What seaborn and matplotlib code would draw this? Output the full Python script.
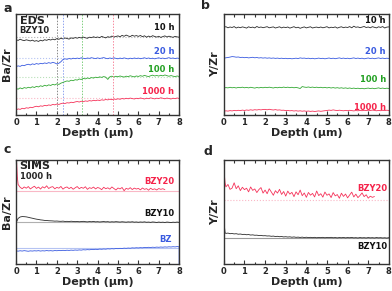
import numpy as np
import matplotlib.pyplot as plt
import seaborn as sns

# depth grid (um) used by the EDS/SIMS scans
depth = np.round(np.arange(0, 8.01, 0.1), 2)

# ---- (a) EDS Ba/Zr, BZY10 ----
eds_ba_10h = [0.745, 0.738, 0.750, 0.741, 0.736, 0.744, 0.739, 0.733, 0.741, 0.730,
              0.736, 0.728, 0.740, 0.733, 0.745, 0.739, 0.748, 0.742, 0.751, 0.744,
              0.756, 0.749, 0.760, 0.753, 0.762, 0.757, 0.751, 0.763, 0.758, 0.766,
              0.760, 0.768, 0.762, 0.771, 0.764, 0.759, 0.770, 0.765, 0.774, 0.767,
              0.772, 0.765, 0.778, 0.770, 0.763, 0.775, 0.769, 0.781, 0.772, 0.777,
              0.783, 0.774, 0.788, 0.779, 0.791, 0.782, 0.776, 0.789, 0.780, 0.786,
              0.778, 0.787, 0.775, 0.784, 0.770, 0.781, 0.773, 0.785, 0.777, 0.771,
              0.779, 0.768, 0.776, 0.783, 0.772, 0.780, 0.774, 0.769, 0.778, 0.773, 0.770]
eds_ba_20h = [0.478, 0.486, 0.481, 0.492, 0.488, 0.497, 0.502, 0.495, 0.506, 0.500,
              0.509, 0.503, 0.511, 0.507, 0.515, 0.510, 0.518, 0.512, 0.521, 0.515,
              0.505, 0.512, 0.527, 0.549, 0.556, 0.551, 0.559, 0.554, 0.562, 0.557,
              0.563, 0.558, 0.566, 0.561, 0.557, 0.564, 0.560, 0.567, 0.562, 0.558,
              0.565, 0.559, 0.563, 0.568, 0.561, 0.557, 0.564, 0.559, 0.566, 0.560,
              0.556, 0.563, 0.558, 0.565, 0.560, 0.555, 0.562, 0.557, 0.564, 0.559,
              0.563, 0.557, 0.561, 0.566, 0.559, 0.564, 0.558, 0.562, 0.556, 0.561,
              0.566, 0.559, 0.563, 0.557, 0.562, 0.567, 0.560, 0.564, 0.558, 0.563, 0.560]
eds_ba_100h = [0.262, 0.255, 0.268, 0.259, 0.271, 0.265, 0.274, 0.268, 0.279, 0.272,
               0.283, 0.277, 0.289, 0.282, 0.294, 0.287, 0.298, 0.292, 0.303, 0.297,
               0.308, 0.302, 0.315, 0.322, 0.330, 0.337, 0.333, 0.344, 0.339, 0.349,
               0.345, 0.356, 0.351, 0.362, 0.357, 0.366, 0.361, 0.370, 0.365, 0.374,
               0.369, 0.377, 0.372, 0.380, 0.374, 0.352, 0.378, 0.384, 0.376, 0.383,
               0.378, 0.386, 0.380, 0.375, 0.384, 0.379, 0.388, 0.382, 0.377, 0.386,
               0.381, 0.389, 0.383, 0.392, 0.385, 0.380, 0.388, 0.394, 0.386, 0.391,
               0.385, 0.393, 0.387, 0.396, 0.389, 0.383, 0.390, 0.384, 0.379, 0.386, 0.381]
eds_ba_1000h = [0.048, 0.060, 0.055, 0.066, 0.061, 0.071, 0.067, 0.076, 0.072, 0.081,
                0.086, 0.081, 0.090, 0.086, 0.095, 0.091, 0.099, 0.095, 0.104, 0.100,
                0.108, 0.104, 0.112, 0.117, 0.113, 0.121, 0.118, 0.126, 0.122, 0.129,
                0.133, 0.128, 0.136, 0.131, 0.139, 0.135, 0.142, 0.138, 0.145, 0.141,
                0.147, 0.143, 0.150, 0.146, 0.153, 0.149, 0.156, 0.151, 0.158, 0.154,
                0.160, 0.155, 0.163, 0.158, 0.165, 0.160, 0.167, 0.162, 0.158, 0.165,
                0.161, 0.168, 0.163, 0.158, 0.166, 0.161, 0.169, 0.164, 0.159, 0.166,
                0.162, 0.170, 0.165, 0.160, 0.167, 0.163, 0.158, 0.166, 0.161, 0.168, 0.163]
eds_ba_ref = [0.77, 0.56, 0.38, 0.165]
interface_depth = [2.0, 2.32, 3.22, 4.74]

# ---- (b) EDS Y/Zr ----
eds_y_10h = [0.868, 0.874, 0.863, 0.871, 0.866, 0.875, 0.861, 0.870, 0.864, 0.872,
             0.867, 0.860, 0.873, 0.865, 0.870, 0.862, 0.876, 0.866, 0.871, 0.864,
             0.869, 0.874, 0.863, 0.868, 0.872, 0.861, 0.867, 0.873, 0.862, 0.870,
             0.865, 0.871, 0.860, 0.867, 0.874, 0.863, 0.869, 0.858, 0.866, 0.872,
             0.862, 0.868, 0.873, 0.861, 0.867, 0.870, 0.864, 0.871, 0.863, 0.868,
             0.874, 0.862, 0.869, 0.865, 0.872, 0.860, 0.868, 0.873, 0.864, 0.870,
             0.866, 0.875, 0.863, 0.879, 0.868, 0.872, 0.864, 0.870, 0.876, 0.866,
             0.871, 0.863, 0.874, 0.868, 0.862, 0.873, 0.867, 0.875, 0.861, 0.870, 0.872]
eds_y_20h = [0.562, 0.566, 0.569, 0.573, 0.578, 0.576, 0.572, 0.574, 0.569, 0.571,
             0.567, 0.570, 0.565, 0.568, 0.571, 0.566, 0.569, 0.564, 0.567, 0.563,
             0.566, 0.562, 0.565, 0.561, 0.564, 0.560, 0.563, 0.559, 0.562, 0.558,
             0.561, 0.557, 0.560, 0.556, 0.559, 0.562, 0.558, 0.565, 0.561, 0.563,
             0.559, 0.562, 0.557, 0.561, 0.556, 0.559, 0.563, 0.558, 0.561, 0.556,
             0.560, 0.564, 0.558, 0.562, 0.557, 0.561, 0.565, 0.559, 0.563, 0.558,
             0.562, 0.557, 0.561, 0.565, 0.559, 0.563, 0.558, 0.562, 0.556, 0.560,
             0.564, 0.558, 0.562, 0.557, 0.561, 0.565, 0.559, 0.563, 0.558, 0.562, 0.559]
eds_y_100h = [0.266, 0.271, 0.268, 0.274, 0.269, 0.272, 0.267, 0.273, 0.270, 0.275,
              0.269, 0.273, 0.268, 0.274, 0.270, 0.266, 0.272, 0.268, 0.273, 0.269,
              0.274, 0.270, 0.275, 0.271, 0.267, 0.273, 0.269, 0.274, 0.270, 0.276,
              0.271, 0.275, 0.270, 0.274, 0.269, 0.273, 0.268, 0.262, 0.281, 0.276,
              0.273, 0.277, 0.272, 0.276, 0.271, 0.275, 0.270, 0.274, 0.269, 0.273,
              0.268, 0.272, 0.267, 0.271, 0.266, 0.270, 0.265, 0.269, 0.264, 0.268,
              0.263, 0.267, 0.262, 0.266, 0.261, 0.265, 0.260, 0.264, 0.259, 0.263,
              0.266, 0.261, 0.265, 0.260, 0.264, 0.268, 0.262, 0.266, 0.261, 0.265, 0.262]
eds_y_1000h = [0.036, 0.041, 0.038, 0.043, 0.040, 0.045, 0.042, 0.046, 0.043, 0.048,
               0.044, 0.049, 0.046, 0.051, 0.047, 0.052, 0.049, 0.053, 0.050, 0.054,
               0.055, 0.051, 0.056, 0.052, 0.049, 0.053, 0.048, 0.050, 0.046, 0.047,
               0.043, 0.045, 0.041, 0.043, 0.039, 0.042, 0.038, 0.041, 0.037, 0.040,
               0.036, 0.039, 0.035, 0.038, 0.034, 0.037, 0.040, 0.036, 0.039, 0.042,
               0.044, 0.048, 0.045, 0.050, 0.046, 0.043, 0.047, 0.044, 0.041, 0.045,
               0.042, 0.046, 0.043, 0.040, 0.044, 0.041, 0.045, 0.042, 0.046, 0.043,
               0.047, 0.044, 0.048, 0.045, 0.041, 0.045, 0.042, 0.046, 0.043, 0.047, 0.044]

# ---- (c) SIMS Ba/Zr, 1000 h ----
sims_head_depth = [0.0, 0.03, 0.06]
sims_short_depth = np.round(np.arange(0.1, 7.31, 0.1), 2)
sims_ba_bzy20 = [1.0, 0.97, 0.84,
                 0.765, 0.738, 0.724, 0.741, 0.729, 0.745, 0.722, 0.736, 0.748, 0.727,
                 0.740, 0.721, 0.743, 0.731, 0.752, 0.726, 0.739, 0.744, 0.723, 0.737,
                 0.729, 0.746, 0.720, 0.735, 0.741, 0.725, 0.738, 0.719, 0.733, 0.745,
                 0.724, 0.737, 0.728, 0.743, 0.718, 0.734, 0.727, 0.740, 0.722, 0.736,
                 0.729, 0.715, 0.738, 0.724, 0.733, 0.720, 0.741, 0.726, 0.712, 0.731,
                 0.722, 0.736, 0.705, 0.728, 0.719, 0.734, 0.716, 0.730, 0.721, 0.727,
                 0.713, 0.731, 0.718, 0.725, 0.710, 0.729, 0.716, 0.723, 0.712, 0.726,
                 0.718, 0.724, 0.715]
sims_ba_bzy10 = [0.395, 0.438, 0.452, 0.456, 0.455, 0.453, 0.449, 0.444, 0.440, 0.435,
                 0.431, 0.428, 0.424, 0.422, 0.419, 0.418, 0.416, 0.415, 0.414, 0.412,
                 0.413, 0.411, 0.410, 0.412, 0.409, 0.410, 0.408, 0.411, 0.409, 0.407,
                 0.409, 0.406, 0.408, 0.410, 0.407, 0.405, 0.408, 0.406, 0.409, 0.405,
                 0.407, 0.404, 0.406, 0.408, 0.405, 0.407, 0.403, 0.406, 0.404, 0.407,
                 0.405, 0.403, 0.406, 0.404, 0.402, 0.405, 0.403, 0.406, 0.402, 0.404,
                 0.401, 0.404, 0.402, 0.405, 0.401, 0.403, 0.400, 0.404, 0.402, 0.399,
                 0.403, 0.400, 0.402, 0.399, 0.403, 0.401, 0.398, 0.402, 0.400, 0.403, 0.400]
sims_ba_bz = [0.126, 0.123, 0.127, 0.124, 0.128, 0.125, 0.122, 0.126, 0.124, 0.127,
              0.125, 0.128, 0.124, 0.127, 0.125, 0.129, 0.126, 0.128, 0.125, 0.129,
              0.127, 0.130, 0.128, 0.131, 0.129, 0.132, 0.130, 0.133, 0.131, 0.134,
              0.132, 0.135, 0.133, 0.137, 0.135, 0.138, 0.136, 0.140, 0.138, 0.141,
              0.139, 0.143, 0.141, 0.144, 0.142, 0.146, 0.144, 0.147, 0.145, 0.149,
              0.147, 0.150, 0.148, 0.152, 0.150, 0.153, 0.151, 0.155, 0.153, 0.156,
              0.154, 0.157, 0.155, 0.159, 0.157, 0.160, 0.158, 0.161, 0.159, 0.162,
              0.160, 0.163, 0.161, 0.164, 0.162, 0.165, 0.163, 0.166, 0.164, 0.167, 0.165,
              0.0]
sims_ba_ref = [0.70, 0.40, 0.15]

# ---- (d) SIMS Y/Zr ----
sims_y_bzy20 = [1.0, 0.85, 0.78,
                0.742, 0.765, 0.718, 0.730, 0.781, 0.724, 0.752, 0.706, 0.738, 0.715,
                0.729, 0.694, 0.741, 0.708, 0.722, 0.687, 0.716, 0.735, 0.682, 0.711,
                0.676, 0.724, 0.693, 0.661, 0.705, 0.682, 0.718, 0.669, 0.697, 0.653,
                0.701, 0.672, 0.689, 0.648, 0.694, 0.666, 0.711, 0.657, 0.683, 0.641,
                0.688, 0.662, 0.679, 0.645, 0.702, 0.658, 0.676, 0.643, 0.692, 0.661,
                0.674, 0.639, 0.687, 0.655, 0.668, 0.632, 0.681, 0.650, 0.673, 0.636,
                0.664, 0.691, 0.645, 0.672, 0.638, 0.659, 0.684, 0.648, 0.666, 0.633,
                0.652, 0.641, 0.649]
sims_y_bzy10 = [0.45, 0.36, 0.30,
                0.294, 0.297, 0.291, 0.293, 0.289, 0.291, 0.286, 0.288, 0.284, 0.285,
                0.281, 0.283, 0.278, 0.280, 0.276, 0.277, 0.273, 0.275, 0.271, 0.272,
                0.269, 0.270, 0.266, 0.268, 0.264, 0.266, 0.262, 0.264, 0.260, 0.262,
                0.259, 0.261, 0.257, 0.260, 0.256, 0.258, 0.255, 0.258, 0.254, 0.257,
                0.254, 0.256, 0.253, 0.256, 0.252, 0.255, 0.253, 0.256, 0.252, 0.255,
                0.253, 0.256, 0.252, 0.254, 0.251, 0.254, 0.252, 0.255, 0.251, 0.254,
                0.252, 0.255, 0.251, 0.253, 0.250, 0.254, 0.251, 0.253, 0.250, 0.254,
                0.251, 0.253, 0.250, 0.254, 0.251, 0.253, 0.250, 0.252, 0.249, 0.253]
sims_y_ref = [0.62, 0.245]

hours = ["10 h", "20 h", "100 h", "1000 h"]
line_colors = ["#2a2a2a", "#3a5be0", "#33a833", "#f5335a"]
ref_colors = ["#b0b0b0", "#b5c3f2", "#b8e0b8", "#f9b8c6"]
vline_colors = ["#888888", "#8fa3ef", "#7fcf7f", "#f7899f"]
label_colors = ["#111111", "#3a5be0", "#22a022", "#f5234a"]

sns.set_style("ticks")
plt.rcParams["font.family"] = ["DejaVu Sans"]
plt.rcParams["font.weight"] = "bold"

fig = plt.figure(figsize=(3.92, 2.91), dpi=100)
ax_a = fig.add_axes([0.041, 0.605, 0.416, 0.347])
ax_b = fig.add_axes([0.571, 0.605, 0.421, 0.347])
ax_c = fig.add_axes([0.041, 0.093, 0.416, 0.357])
ax_d = fig.add_axes([0.571, 0.093, 0.421, 0.357])


def draw(ax, x, y, color, lw=0.6):
    sns.lineplot(x=list(x), y=y, ax=ax, color=color, linewidth=lw,
                 estimator=None, sort=False)


def style(ax, ylabel, letter, lx, ly):
    ax.set_xlim(0, 8)
    ax.set_ylim(0, 1)
    ax.set_xticks(range(0, 9))
    ax.set_xticks(np.arange(0.5, 8, 1), minor=True)
    ax.set_yticks([])
    ax.tick_params(axis="x", which="both", direction="in", top=True,
                   labelsize=6, pad=2, width=0.8, color="#333333")
    ax.tick_params(axis="x", which="major", length=3)
    ax.tick_params(axis="x", which="minor", length=1.8)
    for t in ax.get_xticklabels():
        t.set_fontweight("bold")
    for s in ax.spines.values():
        s.set_linewidth(1.0)
        s.set_color("#333333")
    ax.set_xlabel("Depth (μm)", fontsize=8, fontweight="bold", labelpad=1)
    ax.set_ylabel(ylabel, fontsize=8, fontweight="bold", labelpad=3)
    fig.text(lx, ly, letter, fontsize=9, fontweight="bold", ha="left", va="center")


# (a)
for i, vals in enumerate([eds_ba_10h, eds_ba_20h, eds_ba_100h, eds_ba_1000h]):
    ax_a.axhline(eds_ba_ref[i], color=ref_colors[i], linewidth=0.8, linestyle=":")
    ax_a.axvline(interface_depth[i], color=vline_colors[i], linewidth=0.7,
                 linestyle=(0, (1.5, 1.5)))
    draw(ax_a, depth, vals, line_colors[i])
a_lab_y = [0.87, 0.63, 0.455, 0.235]
for i, h in enumerate(hours):
    ax_a.text(7.75, a_lab_y[i], h, color=label_colors[i], fontsize=6,
              fontweight="bold", ha="right", va="center")
ax_a.text(0.18, 0.93, "EDS", fontsize=8, fontweight="bold", va="center")
ax_a.text(0.18, 0.84, "BZY10", fontsize=6, fontweight="bold", va="center")
style(ax_a, "Ba/Zr", "a", 0.008, 0.972)

# (b)
for i, vals in enumerate([eds_y_10h, eds_y_20h, eds_y_100h, eds_y_1000h]):
    draw(ax_b, depth, vals, line_colors[i])
b_lab_y = [0.94, 0.63, 0.35, 0.075]
for i, h in enumerate(hours):
    ax_b.text(7.85, b_lab_y[i], h, color=label_colors[i], fontsize=6,
              fontweight="bold", ha="right", va="center")
style(ax_b, "Y/Zr", "b", 0.513, 0.982)

# (c)
for i, r in enumerate(sims_ba_ref):
    ax_c.axhline(r, color=[ref_colors[3], ref_colors[0], ref_colors[1]][i], linewidth=0.8)
draw(ax_c, sims_head_depth + list(sims_short_depth), sims_ba_bzy20, line_colors[3])
draw(ax_c, depth, sims_ba_bzy10, line_colors[0])
draw(ax_c, list(depth) + [8.0], sims_ba_bz, line_colors[1])
ax_c.text(7.05, 0.79, "BZY20", color=label_colors[3], fontsize=6, fontweight="bold",
          ha="center", va="center")
ax_c.text(7.05, 0.49, "BZY10", color=label_colors[0], fontsize=6, fontweight="bold",
          ha="center", va="center")
ax_c.text(7.35, 0.24, "BZ", color=label_colors[1], fontsize=6, fontweight="bold",
          ha="center", va="center")
ax_c.text(0.18, 0.94, "SIMS", fontsize=8, fontweight="bold", va="center")
ax_c.text(0.18, 0.84, "1000 h", fontsize=6, fontweight="bold", va="center")
style(ax_c, "Ba/Zr", "c", 0.008, 0.485)

# (d)
ax_d.axhline(sims_y_ref[0], color=ref_colors[3], linewidth=0.8, linestyle=":")
ax_d.axhline(sims_y_ref[1], color="#999999", linewidth=0.8)
draw(ax_d, sims_head_depth + list(sims_short_depth), sims_y_bzy20, line_colors[3])
draw(ax_d, sims_head_depth + list(np.round(np.arange(0.1, 8.01, 0.1), 2)),
     sims_y_bzy10, line_colors[0])
ax_d.text(7.2, 0.73, "BZY20", color=label_colors[3], fontsize=6, fontweight="bold",
          ha="center", va="center")
ax_d.text(7.2, 0.17, "BZY10", color=label_colors[0], fontsize=6, fontweight="bold",
          ha="center", va="center")
style(ax_d, "Y/Zr", "d", 0.518, 0.478)

fig.savefig("out.png", dpi=100)
